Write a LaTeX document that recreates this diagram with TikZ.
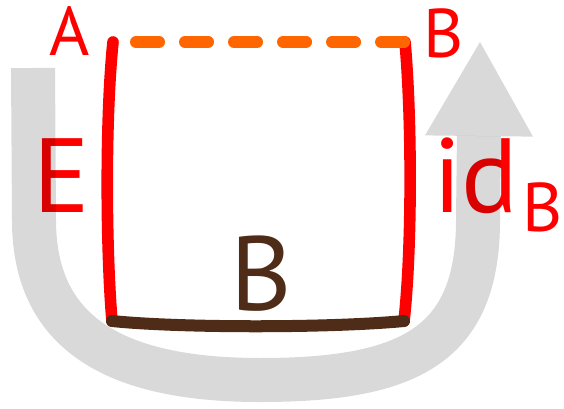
\documentclass[tikz,border=0pt]{standalone}
\usepackage{fontspec}
\setmainfont{PT Sans}
\usepackage{tikz}
\usetikzlibrary{arrows.meta}
\definecolor{sidered}{HTML}{FF0000}
\definecolor{topdash}{HTML}{FF6600}
\definecolor{basebrown}{HTML}{4F2C17}
\definecolor{bandgray}{HTML}{D9D9D9}
\newcommand{\lblbig}{\fontsize{75pt}{75pt}\selectfont}
\newcommand{\lblsmall}{\fontsize{49pt}{49pt}\selectfont}

\begin{document}
\begin{tikzpicture}[x=0.025cm,y=-0.025cm,
    side/.style={sidered,line width=0.29cm,line cap=round},
    big/.style={font=\lblbig,inner sep=0pt,anchor=base},
    small/.style={font=\lblsmall,inner sep=0pt,anchor=base}]
  \useasboundingbox (0,0) rectangle (564,408);
  % corners of the square
  \coordinate (tl) at (113,42);
  \coordinate (tr) at (405,42);
  \coordinate (bl) at (112,321);
  \coordinate (br) at (404,321);
  \draw[side] (tl) .. controls (105,120) and (106,250) .. (bl);
  \draw[side] (tr) .. controls (412,120) and (412,250) .. (br);
  \draw[basebrown,line width=0.3cm,line cap=round] (bl) .. controls (180,328) and (330,328) .. (br);
  \draw[topdash,line width=0.3cm,line cap=round,dash pattern=on 0.575cm off 0.65cm,dash phase=0.65cm] (tl) -- (tr);
  % labels
  \node[small,sidered] (lblA) at (70,55) {A};
  \node[small,sidered] (lblB) at (443.5,57) {B};
  \node[big,sidered] (lblE) at (61.5,212) {E};
  \node[big,sidered,anchor=base west] (lblid) at (433,212) {id\hspace{3pt}\raisebox{-14.2pt}{\lblsmall B}};
  \node[big,basebrown] (lblbase) at (261.5,310) {B};
  % the U arrow
  \coordinate (ustart) at (33,68);
  \coordinate (uend) at (480,42);
  \begin{scope}[blend mode=multiply]
    \draw[bandgray,line width=1.1cm,-{Triangle[length=2.35cm,width=2.7cm,line width=0pt]}]
      (ustart) -- (34,220) .. controls (34,330) and (110,380) .. (260,380)
      .. controls (410,380) and (478,345) .. (478,220) -- (uend);
  \end{scope}
\end{tikzpicture}
\end{document}
